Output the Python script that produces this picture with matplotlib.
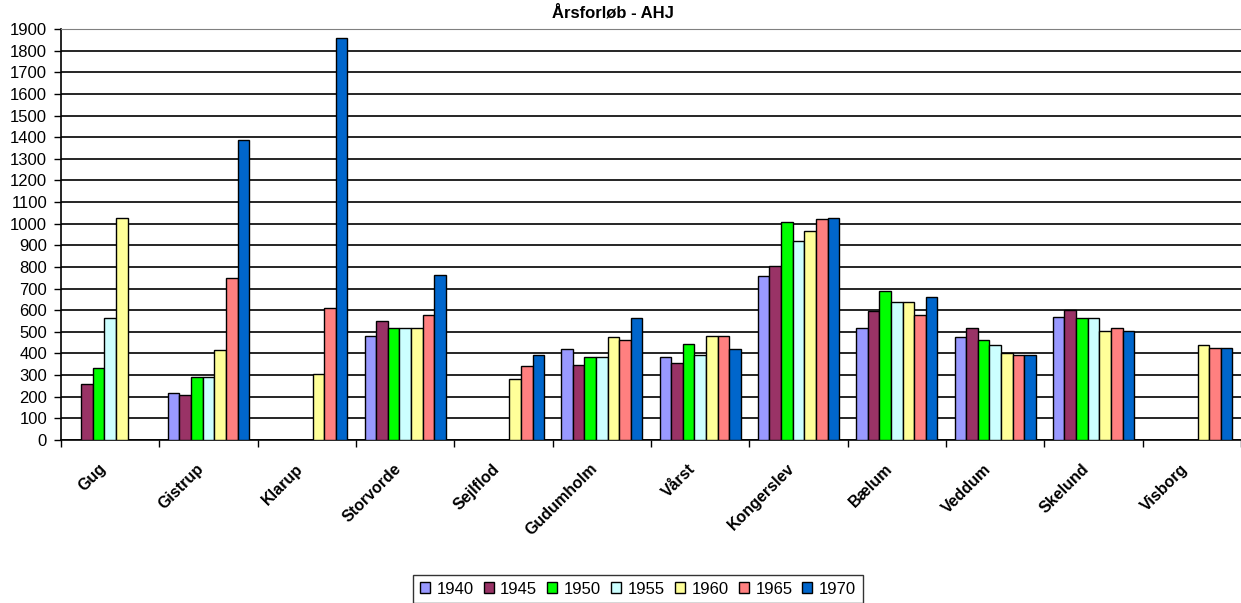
import numpy as np
import matplotlib
matplotlib.use("Agg")
import matplotlib.pyplot as plt
from matplotlib.transforms import ScaledTranslation

plt.rcParams['font.family'] = ['Liberation Sans', 'DejaVu Sans']

towns = ["Gug", "Gistrup", "Klarup", "Storvorde", "Sejlflod", "Gudumholm",
         "Vårst", "Kongerslev", "Bælum", "Veddum", "Skelund", "Visborg"]
years = ["1940", "1945", "1950", "1955", "1960", "1965", "1970"]
nan = np.nan
v1940 = [nan, 215, nan, 480, nan, 422, 385, 760, 520, 477, 570, nan]
v1945 = [260, 210, nan, 548, nan, 348, 356, 805, 597, 520, 600, nan]
v1950 = [335, 290, nan, 520, nan, 385, 445, 1010, 690, 460, 565, nan]
v1955 = [565, 290, nan, 520, nan, 385, 395, 920, 637, 437, 565, nan]
v1960 = [1025, 415, 305, 520, 283, 475, 482, 965, 637, 400, 505, 437]
v1965 = [nan, 750, 608, 578, 340, 460, 482, 1020, 578, 395, 520, 423]
v1970 = [nan, 1385, 1860, 765, 395, 563, 422, 1025, 660, 395, 505, 423]
series = [v1940, v1945, v1950, v1955, v1960, v1965, v1970]
colors = ["#9999FF", "#993366", "#00FF00", "#CCFFFF", "#FFFF99", "#FF8080", "#0066CC"]

fig = plt.figure(figsize=(12.41, 6.03), dpi=100)
ax = fig.add_axes([61/1241, 1 - 440/603, 1 - 61/1241, (440 - 29)/603])

x = np.arange(len(towns))
w = 0.118
for i, (vals, c, lab) in enumerate(zip(series, colors, years)):
    ax.bar(x + (i - 3) * w, vals, width=w, color=c, edgecolor="black",
           linewidth=1.0, label=lab, zorder=3)

ax.set_xlim(-0.5, len(towns) - 0.5)
ax.set_ylim(0, 1900)
ax.set_yticks(np.arange(0, 2000, 100))
ax.tick_params(axis='y', labelsize=12, length=5, width=1, direction='out', pad=5)
ax.yaxis.grid(True, color="black", linewidth=1.2, zorder=0)
ax.set_axisbelow(True)

ax.set_xticks(x)
ax.set_xticklabels(towns, rotation=45, ha="right", rotation_mode="anchor",
                   fontsize=11.5, fontweight="bold")
ax.tick_params(axis='x', length=0, pad=8)
shift = ScaledTranslation(-12/100, -10/100, fig.dpi_scale_trans)
for t in ax.get_xticklabels():
    t.set_transform(t.get_transform() + shift)
ax.set_xticks(np.arange(-0.5, len(towns), 1), minor=True)
ax.tick_params(axis='x', which='minor', length=5, width=1, direction='out')

ax.spines["right"].set_visible(False)
ax.spines["top"].set_color("#808080")
ax.spines["left"].set_linewidth(1.2)
ax.spines["bottom"].set_linewidth(1.2)

fig.text(613/1241, 1 - 13/603, "Årsforløb - AHJ", ha="center", va="center",
         fontsize=12, fontweight="bold")

leg = fig.legend(loc="center", bbox_to_anchor=(638/1241, 1 - 589/603), ncol=7,
                 fontsize=12, frameon=True, fancybox=False, edgecolor="black",
                 handlelength=0.6, handleheight=0.6, handletextpad=0.4,
                 columnspacing=0.6, borderpad=0.4)
leg.get_frame().set_linewidth(1.0)

fig.savefig("out.png", dpi=100)
